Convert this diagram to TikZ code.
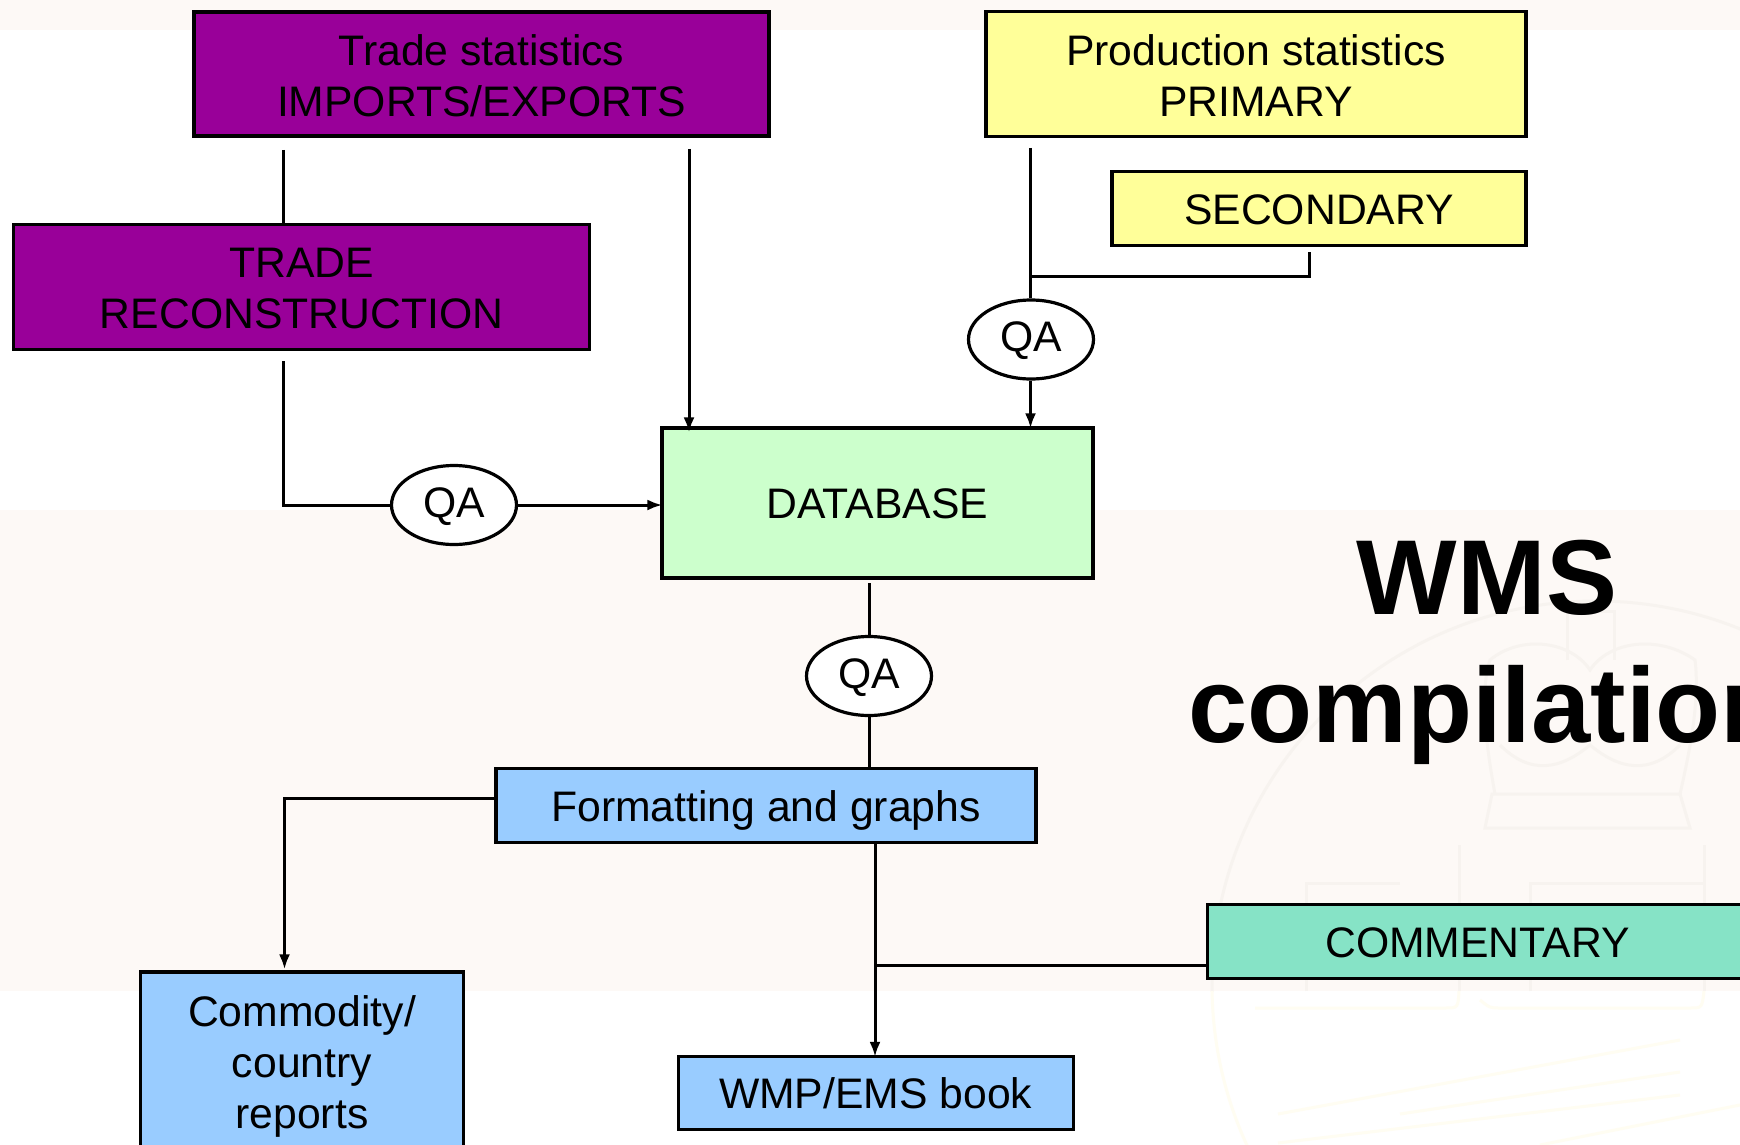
\documentclass[tikz,border=0pt]{standalone}
\usepackage{fontspec}
\setmainfont{Liberation Sans}
\usetikzlibrary{shapes.geometric,arrows.meta}
\definecolor{bandbg}{HTML}{FDF9F6}
\definecolor{wmband}{HTML}{F7F3EF}
\definecolor{wmlow}{HTML}{FFFDF2}
\definecolor{purplebox}{HTML}{990099}
\definecolor{yellowbox}{HTML}{FFFF99}
\definecolor{greenbox}{HTML}{CCFFCC}
\definecolor{bluebox}{HTML}{99CCFF}
\definecolor{tealbox}{HTML}{86E3C6}
\newcommand{\toprule}{\rule{0pt}{34pt}}
\newcommand{\lowrule}{\rule{0pt}{32.5pt}}
\tikzset{
  x=1pt,y=-1pt,
  boxnode/.style={draw=black,line width=3.2pt,rectangle,inner sep=0pt,align=center,
    font=\fontsize{42.7}{51}\selectfont},
  oneline/.style={text height=31pt,text depth=0pt},
  qanode/.style={draw=black,fill=white,line width=3.2pt,ellipse,inner sep=0pt,
    minimum width=125pt,minimum height=79pt,font=\fontsize{42.7}{51}\selectfont,
    text height=31pt,text depth=7pt},
  link/.style={draw=black,line width=3pt},
  arrowlink/.style={link,-{Latex[length=15pt,width=11pt]}},
  titlenode/.style={align=center,inner sep=0pt,font=\fontsize{106.5}{128}\selectfont\bfseries},
  wmline/.style={line width=3pt}
}
\begin{document}
\begin{tikzpicture}
\useasboundingbox (0,0) rectangle (1740,1145);
\clip (0,0) rectangle (1740,1145);
\fill[white] (0,0) rectangle (1740,1145);
\fill[bandbg] (0,0) rectangle (1740,30);
\fill[bandbg] (0,510) rectangle (1740,991);
% faint watermark
\begin{scope}
\clip (0,510) rectangle (1740,991);
\draw[wmband,wmline] (1596,985) circle (384);
\draw[wmband,wmline] (1306,991) -- (1306,883) -- (1400,883);
\draw[wmband,wmline] (1459,991) -- (1459,845);
\draw[wmband,wmline] (1530,991) -- (1530,883) -- (1704,883);
\draw[wmband,wmline] (1704,991) -- (1704,845);
\draw[wmband,wmline] (1492,794) -- (1680,794) -- (1690,828) -- (1485,828) -- cycle;
\draw[wmband,wmline] (1495,794) .. controls (1485,740) and (1480,690) .. (1490,660) .. controls (1520,635) and (1570,640) .. (1590,670) .. controls (1610,640) and (1660,635) .. (1695,660) .. controls (1700,700) and (1690,750) .. (1680,794);
\draw[wmband,wmline] (1500,745) .. controls (1530,775) and (1560,770) .. (1590,745) .. controls (1620,770) and (1650,775) .. (1680,745);
\draw[wmband,wmline] (1567,660) -- (1567,611) -- (1614,611) -- (1614,660);
\end{scope}
\begin{scope}
\clip (0,991) rectangle (1740,1145);
\draw[wmlow,wmline] (1596,985) circle (384);
\draw[wmlow,wmline] (1255,1008) -- (1445,1008) .. controls (1458,1008) .. (1459,991);
\draw[wmlow,wmline] (1480,1000) .. controls (1490,1008) .. (1500,1008) -- (1690,1008) .. controls (1702,1008) .. (1704,991);
\draw[wmlow,wmline] (1278,1114) -- (1680,1040);
\draw[wmlow,wmline] (1400,1114) -- (1680,1072);
\draw[wmlow,wmline] (1278,1143) -- (1680,1095);
\draw[wmlow,wmline] (1540,1145) -- (1740,1105);
\end{scope}

\node[boxnode,fill=purplebox,minimum width=575pt,minimum height=124pt] (trade) at (481.5,74) {\toprule Trade statistics\\IMPORTS/EXPORTS};
\node[boxnode,fill=purplebox,minimum width=576pt,minimum height=125pt] (recon) at (301.5,287) {\lowrule TRADE\\RECONSTRUCTION};
\node[boxnode,fill=yellowbox,minimum width=540pt,minimum height=125pt] (prod) at (1256,74) {\toprule Production statistics\\PRIMARY};
\node[boxnode,oneline,fill=yellowbox,minimum width=414pt,minimum height=74pt] (second) at (1319,208.5) {SECONDARY};
\node[boxnode,oneline,fill=greenbox,minimum width=431pt,minimum height=150pt] (db) at (877.5,503) {DATABASE};
\node[boxnode,oneline,fill=bluebox,minimum width=540pt,minimum height=74pt] (fmt) at (766,805.5) {Formatting and graphs};
\node[boxnode,oneline,fill=tealbox,minimum width=540pt,minimum height=74pt] (comm) at (1477.5,941.5) {COMMENTARY};
\node[boxnode,oneline,fill=bluebox,minimum width=395pt,minimum height=73pt] (wmp) at (875.7,1093) {WMP/EMS book};
\node[boxnode,fill=bluebox,minimum width=323pt,minimum height=188pt] (report) at (302,1066) {Commodity/\\country\\reports};

\node[qanode] (qaleft) at (454,505) {QA};
\node[qanode] (qatop) at (1031,339.5) {QA};
\node[qanode] (qamid) at (869,676) {QA};

\node[titlenode] (title) at (1487,652) {WMS\\compilation};

% free ends of the connectors
\coordinate (tradeA) at (283.5,150);
\coordinate (tradeB) at (689,149);
\coordinate (reconA) at (283.5,361);
\coordinate (prodA) at (1030.5,148);
\coordinate (secA) at (1309.5,252);
\coordinate (secB) at (1309.5,276);
\coordinate (secC) at (1030.5,276);
\coordinate (dbA) at (869,583);
\coordinate (leftbend) at (283.5,505);
\coordinate (fmtA) at (284.5,798);
\coordinate (midA) at (875,843);
\coordinate (midB) at (875,965);

\draw[link] (tradeA) -- (tradeA |- recon.north);
\draw[arrowlink] (tradeB) -- ([yshift=-6pt]tradeB |- db.north);
\draw[link] (reconA) -- (leftbend) -- (qaleft.west);
\draw[arrowlink] (qaleft.east) -- ([xshift=2pt]db.west |- qaleft.east);
\draw[link] (prodA) -- (prodA |- qatop.north);
\draw[link] (secA) -- (secB) -- (secC);
\draw[arrowlink] (prodA |- qatop.south) -- ([yshift=-2pt]prodA |- db.north);
\draw[link] (dbA) -- (qamid.north);
\draw[link] (qamid.south) -- (qamid.south |- fmt.north);
\draw[arrowlink] (fmtA -| fmt.west) -- (fmtA) -- ([yshift=1pt]fmtA |- report.north);
\draw[arrowlink] (midA) -- ([yshift=-2pt]midA |- wmp.north);
\draw[link] (midB) -- (midB -| comm.west);
\end{tikzpicture}
\end{document}
